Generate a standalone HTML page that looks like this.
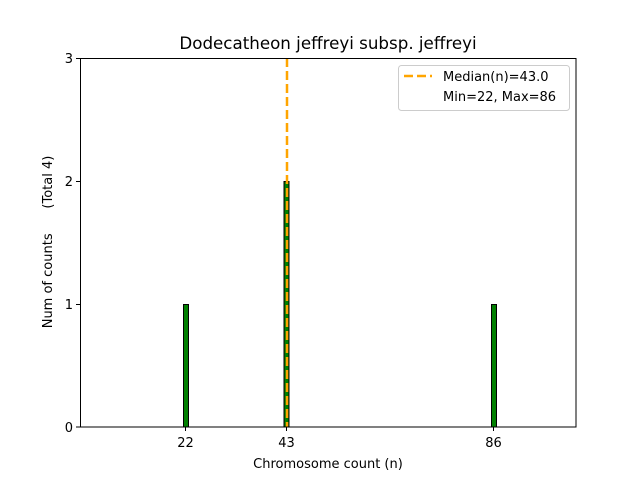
<!DOCTYPE html>
<html><head><style>body{margin:0;background:#fff}</style></head><body>
<svg width="640" height="480" xmlns="http://www.w3.org/2000/svg" font-family="DejaVu Sans, Liberation Sans, sans-serif">
<rect width="640" height="480" fill="#fff"/>
<text x="328" y="49" font-size="16.7" text-anchor="middle">Dodecatheon jeffreyi subsp. jeffreyi</text>
<line x1="183" y1="427" x2="510" y2="427" stroke="#bbb" stroke-width="1"/>
<rect x="183.5" y="304.5" width="5" height="122.5" fill="#008000" stroke="#000" stroke-width="1"/>
<rect x="284" y="181.5" width="5" height="245.5" fill="#008000" stroke="#000" stroke-width="1"/>
<rect x="491.5" y="304.5" width="5" height="122.5" fill="#008000" stroke="#000" stroke-width="1"/>
<line x1="287" y1="58" x2="287" y2="427" stroke="#FFA500" stroke-width="2.5" stroke-dasharray="9,4"/>
<rect x="80.5" y="58.5" width="495.5" height="368.5" fill="none" stroke="#000" stroke-width="1"/>
<g stroke="#000">
<line x1="76" y1="58.5" x2="80" y2="58.5"/><line x1="76" y1="181.5" x2="80" y2="181.5"/>
<line x1="76" y1="304.5" x2="80" y2="304.5"/><line x1="76" y1="427" x2="80" y2="427"/>
<line x1="185.5" y1="427" x2="185.5" y2="431"/><line x1="286.5" y1="427" x2="286.5" y2="431"/>
<line x1="493.5" y1="427" x2="493.5" y2="431"/>
</g>
<g font-size="13" text-anchor="end">
<text x="73" y="63">3</text><text x="73" y="186">2</text><text x="73" y="309">1</text><text x="73" y="432">0</text>
</g>
<g font-size="13" text-anchor="middle">
<text x="185.5" y="447">22</text><text x="286.5" y="447">43</text><text x="493.5" y="447">86</text>
</g>
<text x="328" y="468" font-size="13" text-anchor="middle">Chromosome count (n)</text>
<text transform="translate(52,242) rotate(-90)" font-size="13" text-anchor="middle">Num of counts&#160;&#160;&#160;&#160;&#160;&#160;(Total 4)</text>
<rect x="398.5" y="65.5" width="171" height="45" rx="3" fill="#fff" stroke="#ccc"/>
<line x1="404" y1="76" x2="432" y2="76" stroke="#FFA500" stroke-width="2.5" stroke-dasharray="9,4"/>
<text x="443" y="81" font-size="13">Median(n)=43.0</text>
<text x="443" y="101" font-size="13">Min=22, Max=86</text>
</svg>
</body></html>
